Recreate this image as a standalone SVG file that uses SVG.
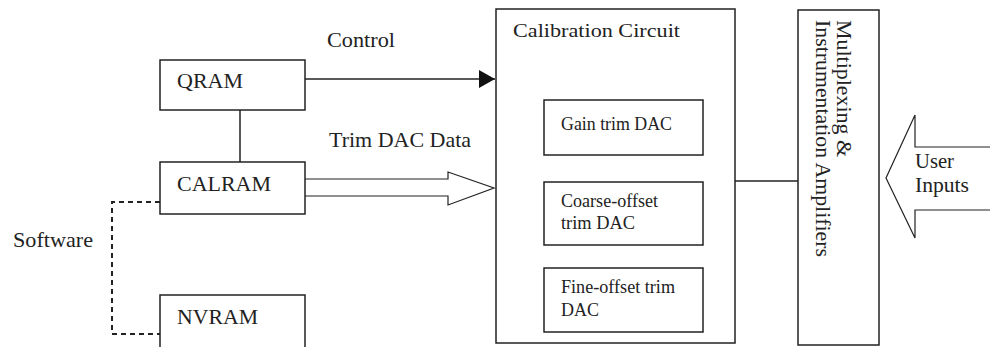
<svg xmlns="http://www.w3.org/2000/svg" width="990" height="347" viewBox="0 0 990 347">
<style>
.box{fill:#fff;stroke:#222;stroke-width:1.5}
.ln{fill:none;stroke:#222;stroke-width:1.5}
.thin{fill:#fff;stroke:#222;stroke-width:1.2}
.t{font-family:"Liberation Serif","Times New Roman",serif;font-size:22px;fill:#222}
.s{font-family:"Liberation Serif","Times New Roman",serif;font-size:18px;fill:#222}
</style>
<defs>
<marker id="fa" viewBox="0 0 16 18" refX="16" refY="9" markerWidth="16" markerHeight="18" markerUnits="userSpaceOnUse" orient="auto">
<path d="M0,0 L16,9 L0,18 Z" fill="#111"/>
</marker>
</defs>
<rect width="990" height="347" fill="#fff"/>
<g id="connectors">
<line class="ln" x1="305" y1="79" x2="495" y2="79" marker-end="url(#fa)"/>
<line class="ln" x1="240" y1="110" x2="240" y2="162"/>
<path class="thin" d="M305,179 H448 V172 L494,188 L448,205 V196 H305"/>
<path fill="none" stroke="#222" stroke-width="2" stroke-dasharray="5,4" d="M160,202 H112 V334 H160"/>
<line class="ln" x1="735" y1="181" x2="798" y2="181"/>
<path class="thin" d="M991,147 H915 V115 L886,178 L915,238 V210 H991"/>
</g>
<g id="label-control"><text class="t" x="327" y="47" textLength="68" lengthAdjust="spacingAndGlyphs">Control</text></g>
<g id="label-trim"><text class="t" x="329" y="147" textLength="142" lengthAdjust="spacingAndGlyphs">Trim DAC Data</text></g>
<g id="label-software"><text class="t" x="13" y="247" textLength="80" lengthAdjust="spacingAndGlyphs">Software</text></g>
<g id="qram">
<rect class="box" x="160" y="60" width="145" height="50"/>
<text class="t" x="177" y="88" textLength="66" lengthAdjust="spacingAndGlyphs">QRAM</text>
</g>
<g id="calram">
<rect class="box" x="160" y="162" width="145" height="52"/>
<text class="t" x="177" y="191" textLength="94" lengthAdjust="spacingAndGlyphs">CALRAM</text>
</g>
<g id="nvram">
<path class="box" d="M160,352 V295 H305 V352"/>
<text class="t" x="177" y="324" textLength="81" lengthAdjust="spacingAndGlyphs">NVRAM</text>
</g>
<g id="calibration">
<rect class="box" x="496" y="9" width="239" height="334"/>
<text class="s" x="513" y="37" textLength="167" lengthAdjust="spacingAndGlyphs">Calibration Circuit</text>
</g>
<g id="gain">
<rect class="box" x="544" y="100" width="159" height="55"/>
<text class="s" x="561" y="130" textLength="111" lengthAdjust="spacingAndGlyphs">Gain trim DAC</text>
</g>
<g id="coarse">
<rect class="box" x="544" y="182" width="159" height="63"/>
<text class="s" x="561" y="207" textLength="97" lengthAdjust="spacingAndGlyphs">Coarse-offset</text>
<text class="s" x="561" y="229" textLength="74" lengthAdjust="spacingAndGlyphs">trim DAC</text>
</g>
<g id="fine">
<rect class="box" x="544" y="268" width="159" height="64"/>
<text class="s" x="561" y="293" textLength="114" lengthAdjust="spacingAndGlyphs">Fine-offset trim</text>
<text class="s" x="561" y="316" textLength="38" lengthAdjust="spacingAndGlyphs">DAC</text>
</g>
<g id="mux">
<rect class="box" x="798" y="10" width="81" height="335"/>
<text class="t" transform="translate(837,0) rotate(90)" x="20" y="0" textLength="137" lengthAdjust="spacingAndGlyphs">Multiplexing &amp;</text>
<text class="t" transform="translate(816,0) rotate(90)" x="20" y="0" textLength="237" lengthAdjust="spacingAndGlyphs">Instrumentation Amplifiers</text>
</g>
<g id="user-inputs">
<text class="t" x="915" y="168" textLength="39" lengthAdjust="spacingAndGlyphs">User</text>
<text class="t" x="915" y="192" textLength="54" lengthAdjust="spacingAndGlyphs">Inputs</text>
</g>
</svg>
